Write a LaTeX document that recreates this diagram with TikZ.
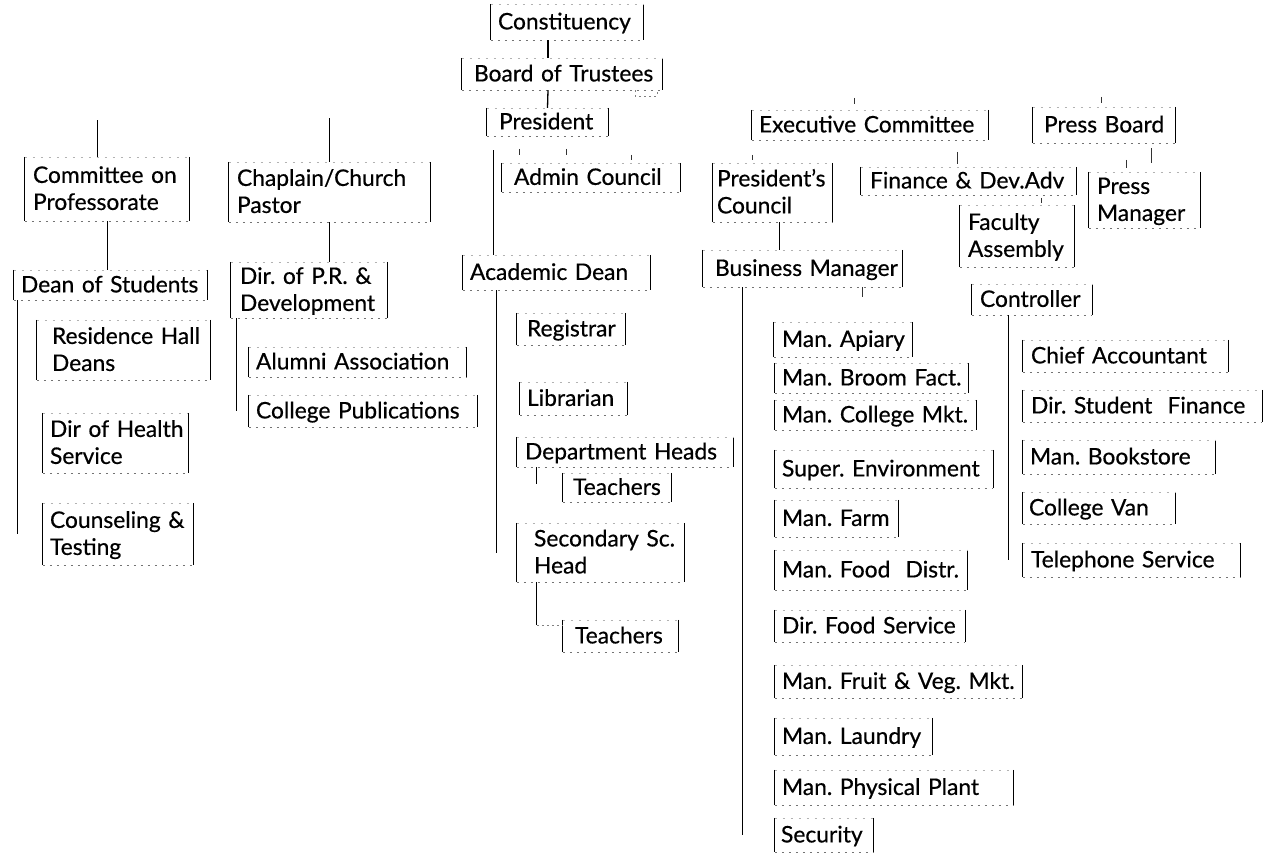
\documentclass[tikz,border=0pt]{standalone}
\usepackage{fontspec}
\setmainfont{Lato}[FakeBold=0.5]
\newcommand\boxfont{\fontsize{22.8}{27}\selectfont\frenchspacing}
\tikzset{
  sidebar/.style={draw=black, line width=1.3pt},
  dashb/.style={draw=black!55, line width=0.7pt, dash pattern=on 2.5pt off 4.5pt},
  dasht/.style={draw=black!30, line width=0.6pt, dash pattern=on 2pt off 6pt},
  bx/.style={inner ysep=0pt, align=left, font=\boxfont,
    append after command={
      (\tikzlastnode.north west) edge[sidebar] (\tikzlastnode.south west)
      (\tikzlastnode.north east) edge[sidebar] (\tikzlastnode.south east)
      (\tikzlastnode.south west) edge[dashb] (\tikzlastnode.south east)
      (\tikzlastnode.north west) edge[dasht] (\tikzlastnode.north east)}},
  conn/.style={draw=black, line width=1.3pt},
  tick/.style={draw=black!80, line width=1pt},
  faint/.style={draw=black!50, line width=0.7pt, dash pattern=on 2pt off 3pt}
}
% name, x1, y1, x2, y2, pad, text
\newcommand\orgbox[7]{%
  \pgfmathsetmacro\obw{#4-#2-2*#6}%
  \pgfmathsetmacro\obh{#5-#3}%
  \node[bx, inner xsep=#6pt, text width=\obw pt, minimum height=\obh pt] (#1)
    at ({(#2+#4)/2},{(#3+#5)/2})
    {\raisebox{-2pt}[\height][\depth]{\begin{tabular}{@{}l@{}}#7\end{tabular}}};}
\begin{document}
\begin{tikzpicture}[x=1pt,y=-1pt]
\fill[white] (0,0) rectangle (1264,852);
\useasboundingbox (0,0) rectangle (1264,852);

% top chain
\orgbox{const}{491}{4}{643}{40}{7}{Constituency}
\orgbox{bt}{462}{58}{662}{90}{12}{Board of Trustees}
\orgbox{pres}{487}{108}{608}{136}{12}{President}
\orgbox{exec}{752}{110}{988}{140}{7}{Executive Committee}
\orgbox{press}{1033}{107}{1175}{143}{11}{Press Board}

% second row
\orgbox{cp}{25}{157}{189}{221}{8}{Committee on\\Professorate}
\orgbox{chap}{229}{162}{430}{222}{8}{Chaplain/Church\\Pastor}
\orgbox{admin}{502}{163}{680}{192}{12}{Admin Council}
\orgbox{pc}{713}{163}{832}{222}{4}{President's\\Council}
\orgbox{fin}{861}{167}{1076}{195}{9}{Finance \& Dev.Adv}
\orgbox{pm}{1089}{172}{1200}{228}{8}{Press\\Manager}
\orgbox{fa}{960}{205}{1074}{267}{8}{Faculty\\Assembly}

% third row
\orgbox{ds}{14}{270}{207}{300}{7}{Dean of Students}
\orgbox{dpr}{231}{262}{387}{318}{9}{Dir. of P.R. \&\\Development}
\orgbox{ad}{463}{255}{650}{290}{7}{Academic Dean}
\orgbox{bm}{703}{250}{902}{287}{12}{Business Manager}
\orgbox{ctrl}{972}{284}{1092}{315}{8}{Controller}

% Dean of Students branch
\orgbox{rhd}{37}{320}{210}{380}{15}{Residence Hall\\Deans}
\orgbox{dhs}{43}{413}{188}{473}{7}{Dir of Health\\Service}
\orgbox{ct}{43}{503}{193}{565}{7}{Counseling \&\\Testing}

% P.R. branch
\orgbox{aa}{249}{347}{466}{377}{7}{Alumni Association}
\orgbox{cpub}{249}{395}{477}{427}{7}{College Publications}

% Academic Dean branch
\orgbox{reg}{517}{313}{625}{345}{10}{Registrar}
\orgbox{lib}{520}{382}{627}{415}{7}{Librarian}
\orgbox{dh}{517}{437}{733}{467}{8}{Department Heads}
\orgbox{tone}{563}{473}{671}{502}{10}{Teachers}
\orgbox{ssh}{517}{523}{684}{582}{17}{Secondary Sc.\\Head}
\orgbox{ttwo}{563}{620}{678}{652}{12}{Teachers}

% Business Manager branch
\orgbox{apiary}{774}{322}{912}{357}{8}{Man. Apiary}
\orgbox{broom}{775}{363}{968}{393}{7}{Man. Broom Fact.}
\orgbox{cmkt}{775}{400}{976}{430}{7}{Man. College Mkt.}
\orgbox{env}{775}{450}{993}{488}{7}{Super. Environment}
\orgbox{farm}{775}{500}{898}{537}{7}{Man. Farm}
\orgbox{fdist}{775}{550}{967}{590}{7}{Man. Food\ \ Distr.}
\orgbox{fserv}{775}{610}{965}{642}{7}{Dir. Food Service}
\orgbox{fruit}{775}{665}{1022}{698}{7}{Man. Fruit \& Veg. Mkt.}
\orgbox{laundry}{775}{718}{932}{755}{7}{Man. Laundry}
\orgbox{plant}{775}{770}{1013}{805}{7}{Man. Physical Plant}
\orgbox{sec}{775}{818}{873}{852}{6}{Security}

% Controller branch
\orgbox{ca}{1023}{340}{1228}{372}{8}{Chief Accountant}
\orgbox{dsf}{1023}{390}{1262}{422}{8}{Dir. Student\ \ Finance}
\orgbox{bk}{1023}{440}{1215}{474}{7}{Man. Bookstore}
\orgbox{van}{1023}{492}{1175}{524}{6}{College Van}
\orgbox{tel}{1023}{543}{1240}{577}{8}{Telephone Service}

% ---- connectors ----
\draw[conn] ([xshift=-19pt]const.south) -- ([xshift=-14pt]bt.north);
\draw[conn] ([xshift=-14pt]bt.south) -- (pres.north);
\draw[faint] ([xshift=-27pt]bt.south east) -- ++(0,6) -- ++(22,0) -- ++(0,-4);
\draw[conn] ([xshift=7pt,yshift=-14pt]pres.south west) -- ([xshift=7pt]pres.south west |- ad.north);
\draw[tick] ([xshift=18pt,yshift=14pt]admin.north west) -- ++(0,6);
\draw[tick] ([xshift=65pt,yshift=14pt]admin.north west) -- ++(0,6);
\draw[tick] ([xshift=130pt,yshift=8pt]admin.north west) -- ++(0,5);
\draw[tick] ([xshift=103pt,yshift=12pt]exec.north west) -- ++(0,6);
\draw[tick] ([xshift=69pt,yshift=10pt]press.north west) -- ++(0,6);
\draw[tick] ([xshift=40pt,yshift=8pt]pc.north west) -- ++(0,5);
\draw[tick] ([xshift=97pt,yshift=15pt]fin.north west) -- ++(0,12);
\draw[tick] ([xshift=38pt,yshift=12pt]pm.north west) -- ++(0,8);
\draw[tick] ([xshift=119pt,yshift=-5pt]press.south west) -- ++(0,15);
\draw[tick] ([xshift=82pt,yshift=7pt]fa.north west) -- ++(0,5);

\draw[conn] ([xshift=67pt]pc.south west) -- ([xshift=67pt]pc.south west |- bm.north);
\draw[conn] ([xshift=40pt]bm.south west) -- ([xshift=40pt]bm.south west |- sec.center);
\draw[tick] ([xshift=160pt]bm.south west) -- ++(0,10);
\draw[conn] ([xshift=37pt]ctrl.south west) -- ([xshift=37pt]ctrl.south west |- tel.center);

\draw[conn] ([xshift=34pt]ad.south west) -- ([xshift=34pt]ad.south west |- ssh.center);
\draw[conn] ([xshift=20pt]dh.south west) -- ++(0,17);
\draw[conn] ([xshift=20pt]ssh.south west) -- ++(0,43) coordinate (sshend);
\draw[faint] (sshend) -- (sshend -| ttwo.west);

\draw[conn] ([xshift=73pt]cp.north west) -- ++(0,-37);
\draw[conn] ([xshift=83pt]cp.south west) -- ([xshift=83pt]cp.south west |- ds.north);
\draw[conn] ([xshift=4pt]ds.south west) -- ([xshift=4pt]ds.south west |- ct.center);

\draw[conn] ([xshift=101pt]chap.north west) -- ++(0,-44);
\draw[conn] ([xshift=101pt]chap.south west) -- ([xshift=101pt]chap.south west |- dpr.north);
\draw[conn] ([xshift=6pt]dpr.south west) -- ([xshift=6pt]dpr.south west |- cpub.center);
\end{tikzpicture}
\end{document}
